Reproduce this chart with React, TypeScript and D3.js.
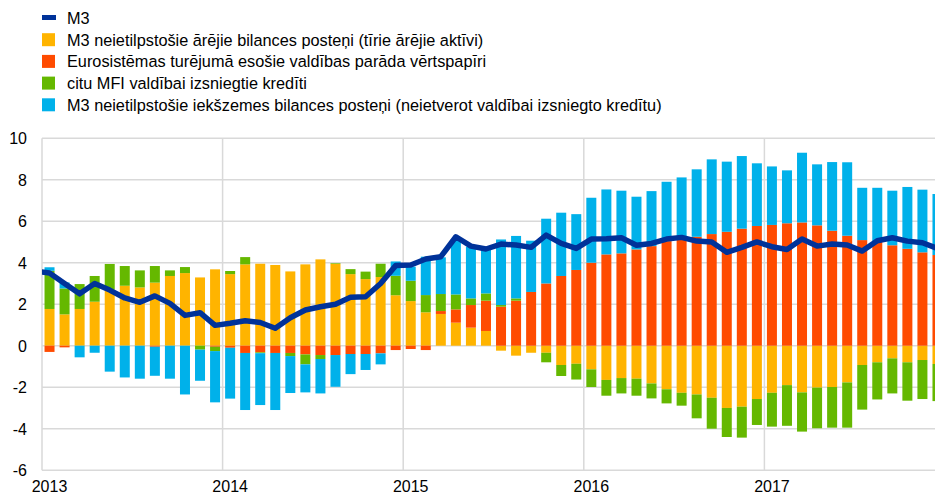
import React, { useEffect, useRef } from 'react';
import * as d3 from 'd3';

// monthly, Jan 2013 .. Dec 2017
const years = ['2013', '2014', '2015', '2016', '2017'];

const external = [
  1.77, 1.51, 1.77, 2.12, 2.71, 2.89, 2.81, 3.04, 3.36, 3.5, 3.29, 3.68,
  3.45, 3.92, 3.95, 3.89, 3.58, 3.92, 4.16, 3.95, 3.45, 3.21, 3.31, 2.43,
  2.15, 1.61, 1.53, 1.11, 0.87, 0.71, -0.24, -0.48, -0.34, -0.34, -0.93, -0.87,
  -1.14, -1.65, -1.56, -1.59, -1.82, -2.1, -2.27, -2.35, -2.51, -3.0, -2.94, -2.57,
  -2.27, -1.9, -2.25, -2.02, -1.99, -1.77, -0.93, -0.8, -0.61, -0.8, -0.69, -0.88,
];

const eurosystem = [
  -0.3, -0.08, 0, 0, 0, 0, 0, -0.05, 0, 0, 0, -0.05,
  -0.1, -0.35, -0.32, -0.35, -0.35, -0.42, -0.45, -0.45, -0.4, -0.4, -0.37, -0.21,
  -0.16, -0.21, 0.14, 0.64, 1.09, 1.46, 1.88, 2.17, 2.59, 3.0, 3.36, 3.65,
  4.0, 4.4, 4.45, 4.64, 4.8, 5.04, 5.12, 5.25, 5.38, 5.49, 5.64, 5.77,
  5.82, 5.9, 5.94, 5.8, 5.54, 5.3, 5.09, 5.04, 4.84, 4.67, 4.5, 4.37,
];

const credit = [
  1.84, 1.25, 1.2, 1.24, 1.23, 0.95, 0.82, 0.8, 0.27, 0.29, -0.19, -0.21,
  0.15, 0.35, -0.04, 0, -0.15, -0.48, -0.19, 0.03, 0.24, 0.36, 0.64, 0.94,
  0.98, 0.83, 0.82, 0.72, 0.32, 0.35, 0.08, 0.11, 0, -0.46, -0.53, -0.76,
  -0.85, -0.76, -0.74, -0.82, -0.72, -0.68, -0.62, -1.15, -1.49, -1.4, -1.49, -1.25,
  -1.63, -1.96, -1.89, -1.96, -1.96, -2.18, -2.15, -1.79, -1.69, -1.85, -1.88, -1.79,
];

const domestic = [
  0.17, 0.29, -0.56, -0.34, -1.25, -1.53, -1.59, -1.4, -1.59, -2.35, -1.5, -2.47,
  -2.45, -2.75, -2.5, -2.75, -1.78, -1.35, -1.66, -1.53, -0.97, -0.77, -0.53, 0.69,
  0.68, 1.85, 1.77, 2.65, 2.49, 2.09, 3.16, 3.01, 2.47, 3.12, 3.05, 2.69,
  3.13, 3.13, 3.02, 2.54, 2.65, 2.86, 2.99, 3.25, 3.6, 3.38, 3.5, 3.02,
  2.82, 2.55, 3.36, 2.94, 3.31, 3.54, 2.52, 2.57, 2.63, 2.98, 3.02, 2.94,
];

// M3 growth, Dec 2012 .. Jan 2018 (ends are clipped by the plot)
const m3 = [
  3.6,
  3.5, 3.0, 2.5, 3.0, 2.68, 2.3, 2.09, 2.4, 2.04, 1.46, 1.59, 0.98,
  1.08, 1.2, 1.12, 0.84, 1.35, 1.72, 1.88, 2.0, 2.33, 2.36, 3.0, 3.86,
  3.89, 4.18, 4.29, 5.25, 4.8, 4.66, 4.9, 4.85, 4.74, 5.33, 4.93, 4.69,
  5.14, 5.16, 5.2, 4.84, 4.93, 5.14, 5.22, 5.04, 5.0, 4.5, 4.74, 5.0,
  4.77, 4.64, 5.14, 4.8, 4.9, 4.85, 4.56, 5.06, 5.2, 5.04, 4.96, 4.69,
  4.5,
];

const yTicks = [-6, -4, -2, 0, 2, 4, 6, 8, 10];

const seriesKeys = ['external', 'eurosystem', 'credit', 'domestic'];
const colors: Record<string, string> = {
  external: '#FFB400',
  eurosystem: '#FF4B00',
  credit: '#65B800',
  domestic: '#00B1EA',
};

const legendItems = [
  { label: 'M3', color: '#003299', line: true },
  { label: 'M3 neietilpstošie ārējie bilances posteņi (tīrie ārējie aktīvi)', color: colors.external },
  { label: 'Eurosistēmas turējumā esošie valdības parāda vērtspapīri', color: colors.eurosystem },
  { label: 'citu MFI valdībai izsniegtie kredīti', color: colors.credit },
  { label: 'M3 neietilpstošie iekšzemes bilances posteņi (neietverot valdībai izsniegto kredītu)', color: colors.domestic },
];

export default function App() {
  const svgRef = useRef<SVGSVGElement>(null);

  useEffect(() => {
    if (!svgRef.current) return;
    const width = 935;
    const height = 496;
    const left = 42;
    const right = 935;
    const font = 'Arial, "Liberation Sans", sans-serif';

    const svg = d3.select(svgRef.current);
    svg.selectAll('*').remove();

    const x = d3.scaleLinear().domain([0, 60]).range([left, left + 5 * 180.6]);
    const y = d3.scaleLinear().domain([-6, 10]).range([470.2, 138.2]);

    svg.append('defs').append('clipPath').attr('id', 'plot')
      .append('rect').attr('x', left).attr('y', 0).attr('width', right - left).attr('height', height);

    // grid
    svg.append('g')
      .selectAll('line')
      .data(yTicks)
      .enter()
      .append('line')
      .attr('x1', left)
      .attr('x2', right)
      .attr('y1', (d) => y(d))
      .attr('y2', (d) => y(d))
      .attr('stroke', '#d9d9d9')
      .attr('stroke-width', 1.5);

    svg.append('g')
      .selectAll('line')
      .data(years.map((_, i) => i * 12))
      .enter()
      .append('line')
      .attr('x1', (d) => x(d))
      .attr('x2', (d) => x(d))
      .attr('y1', y(10))
      .attr('y2', y(-6))
      .attr('stroke', '#d9d9d9')
      .attr('stroke-width', 1.5);

    // y labels
    svg.append('g')
      .selectAll('text')
      .data(yTicks)
      .enter()
      .append('text')
      .attr('x', 27)
      .attr('y', (d) => y(d) + 6)
      .attr('text-anchor', 'end')
      .attr('font-family', font)
      .attr('font-size', 16)
      .attr('fill', '#000')
      .text((d) => d);

    // x labels
    svg.append('g')
      .selectAll('text')
      .data(years)
      .enter()
      .append('text')
      .attr('x', (_, i) => x(i * 12 + 0.5))
      .attr('y', 492)
      .attr('text-anchor', 'middle')
      .attr('font-family', font)
      .attr('font-size', 16)
      .attr('fill', '#000')
      .text((d) => d);

    // stacked bars
    const rows = external.map((_, i) => ({
      i,
      external: external[i],
      eurosystem: eurosystem[i],
      credit: credit[i],
      domestic: domestic[i],
    }));
    const stacked = d3.stack<any>().keys(seriesKeys).offset(d3.stackOffsetDiverging)(rows);
    const barW = 10;
    const plot = svg.append('g').attr('clip-path', 'url(#plot)');

    plot.selectAll('g.series')
      .data(stacked)
      .enter()
      .append('g')
      .attr('fill', (s) => colors[s.key])
      .selectAll('rect')
      .data((s) => s)
      .enter()
      .append('rect')
      .attr('x', (d) => x(d.data.i + 0.5) - barW / 2)
      .attr('width', barW)
      .attr('y', (d) => y(Math.max(d[0], d[1])))
      .attr('height', (d) => Math.abs(y(d[0]) - y(d[1])));

    // M3 line
    const line = d3.line<number>()
      .x((_, i) => x(i - 0.5))
      .y((d) => y(d));
    plot.append('path')
      .datum(m3)
      .attr('d', line)
      .attr('fill', 'none')
      .attr('stroke', '#003299')
      .attr('stroke-width', 5.5)
      .attr('stroke-linejoin', 'round');

    // legend
    const legend = svg.append('g');
    legendItems.forEach((item, k) => {
      const cy = 18 + k * 21.7;
      if (item.line) {
        legend.append('rect').attr('x', 42).attr('y', cy - 3).attr('width', 14).attr('height', 5).attr('fill', item.color);
      } else {
        legend.append('rect').attr('x', 42).attr('y', cy - 6.5).attr('width', 13).attr('height', 13).attr('fill', item.color);
      }
      legend.append('text')
        .attr('x', 67)
        .attr('y', cy + 6)
        .attr('font-family', font)
        .attr('font-size', 16.3)
        .attr('fill', '#000')
        .text(item.label);
    });

    svg.attr('width', width).attr('height', height);
  }, []);

  return (
    <svg
      ref={svgRef}
      width={935}
      height={496}
      style={{ position: 'absolute', left: 0, top: 0, background: '#fff' }}
    />
  );
}
